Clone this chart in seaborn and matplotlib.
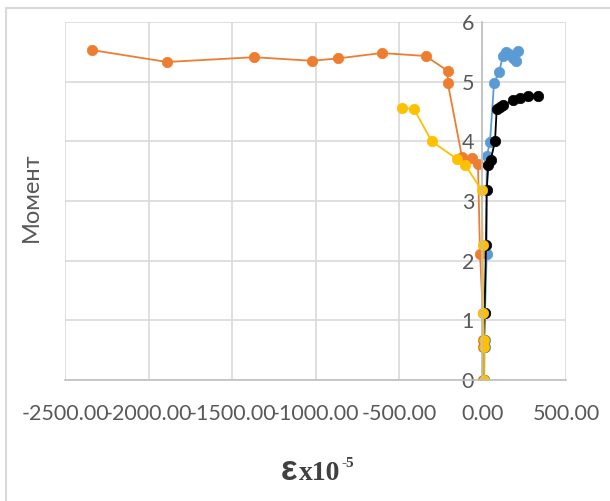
import matplotlib
matplotlib.use("Agg")
import matplotlib.pyplot as plt
import matplotlib.patches as mpatches
from matplotlib.ticker import FuncFormatter
import seaborn as sns

# strain (x10^-5) and moment for each gauge
blue_x = [10, 12, 12, 15, 25, 25, 45, 69, 100, 122, 138, 160, 185, 198, 214]
blue_y = [0.0, 0.56, 0.67, 1.12, 2.12, 3.75, 3.99, 4.98, 5.17, 5.43, 5.49, 5.46, 5.40, 5.34, 5.52]

orange_x = [5, 5, 5, 2, -15, -27, -63, -123, -208, -208, -340, -604, -863, -1023, -1368, -1889, -2338]
orange_y = [0.0, 0.56, 0.67, 1.12, 2.12, 3.62, 3.72, 3.74, 4.98, 5.18, 5.43, 5.48, 5.39, 5.35, 5.41, 5.33, 5.53]

black_x = [8, 8, 9, 12, 21, 25, 35, 49, 75, 85, 105, 125, 184, 225, 274, 334]
black_y = [0.0, 0.56, 0.67, 1.12, 2.26, 3.18, 3.60, 3.69, 4.00, 4.55, 4.58, 4.61, 4.69, 4.72, 4.76, 4.76]

yellow_x = [9, 9, 9, 5, 1, -5, -105, -151, -304, -410, -484]
yellow_y = [0.0, 0.56, 0.67, 1.12, 2.26, 3.18, 3.61, 3.70, 4.00, 4.54, 4.56]

x_ticks = [-2500, -2000, -1500, -1000, -500, 0, 500]
y_ticks = [0, 1, 2, 3, 4, 5, 6]

sns.set_theme(style="white")
plt.rcParams["font.family"] = ["Lato", "DejaVu Sans"]

fig = plt.figure(figsize=(6.1, 5.01), dpi=100)
ax = fig.add_axes([65 / 610, 1 - 380 / 501, (566 - 65) / 610, (380 - 22) / 501])

series = [
    (blue_x, blue_y, "#5B9BD5"),
    (orange_x, orange_y, "#ED7D31"),
    (black_x, black_y, "#000000"),
    (yellow_x, yellow_y, "#FFC000"),
]
for xs, ys, col in series:
    sns.lineplot(x=xs, y=ys, sort=False, estimator=None, ax=ax, color=col,
                 linewidth=1.3, marker="o", markersize=7.5,
                 markeredgecolor=col, markeredgewidth=0.5)

ax.set_xlim(-2500, 500)
ax.set_ylim(0, 6)
ax.set_xticks(x_ticks)
ax.set_yticks(y_ticks)
ax.xaxis.set_major_formatter(FuncFormatter(lambda v, p: f"{v:.2f}"))
ax.grid(True, color="#D9D9D9", linewidth=1.2)
ax.set_axisbelow(True)

for s in ["top", "right"]:
    ax.spines[s].set_visible(False)
ax.spines["left"].set_position(("data", 0))
ax.spines["left"].set_color("#BFBFBF")
ax.spines["bottom"].set_color("#BFBFBF")
ax.spines["left"].set_linewidth(1.2)
ax.spines["bottom"].set_linewidth(1.2)

ax.tick_params(axis="x", length=0, pad=17, labelsize=15.5, labelcolor="#595959")
ax.tick_params(axis="y", length=0, pad=6, labelsize=15.5, labelcolor="#595959")
ax.set_xlabel("")
ax.set_ylabel("")

fig.text(31 / 610, 1 - 197 / 501, "Момент", rotation=90, ha="center", va="center",
         fontsize=17, color="#595959")

# axis title: ε x10^-5
fig.text(281 / 610, 1 - 480 / 501, "ε", fontsize=25, fontweight="bold",
         family="Liberation Sans", color="#404040", va="baseline", ha="left")
fig.text(299 / 610, 1 - 480 / 501, "x10", fontsize=20, fontweight="bold",
         family="Liberation Serif", color="#404040", va="baseline", ha="left")
fig.text(341 / 610, 1 - 467 / 501, "-5", fontsize=11, fontweight="bold",
         family="Liberation Serif", color="#404040", va="baseline", ha="left")

# chart area border (cropped on right and bottom)
border = mpatches.Rectangle((6 / 610, -0.1), 1.2, 1.1 - 8 / 501,
                            transform=fig.transFigure, fill=False,
                            edgecolor="#D9D9D9", linewidth=1.5)
fig.add_artist(border)

fig.savefig("out.png", dpi=100)
